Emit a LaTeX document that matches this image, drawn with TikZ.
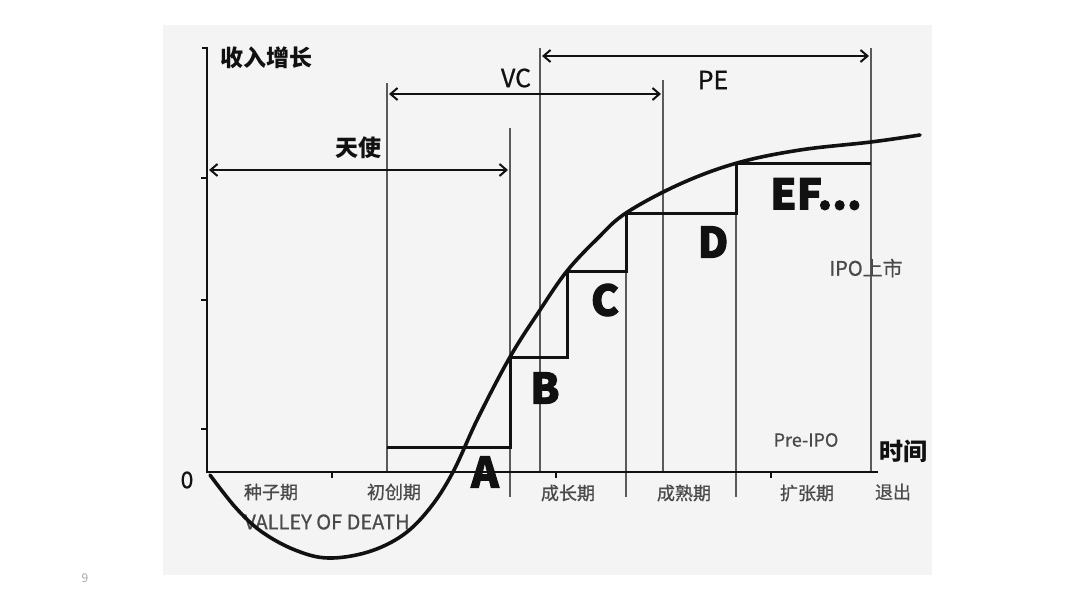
\documentclass[tikz,border=0pt]{standalone}
\usepackage{fontspec}
\setmainfont{Noto Sans CJK SC}
\newfontfamily\heavy{Noto Sans CJK SC}[FakeBold=2.5]
\newfontfamily\medium{Noto Sans CJK SC}[FakeBold=0.8]
\usetikzlibrary{arrows.meta}
\definecolor{panel}{HTML}{F4F4F4}
\definecolor{thingray}{HTML}{5A5A5A}
\definecolor{labgray}{HTML}{4A4A4A}
\definecolor{ink}{HTML}{111111}
\newcommand{\fsz}[1]{\fontsize{#1}{#1}\selectfont}
\begin{document}
\begin{tikzpicture}[x=1pt,y=-1pt,
  thinline/.style={draw=thingray, line width=1.4pt},
  axisline/.style={draw=ink, line width=2.8pt},
  tickline/.style={draw=ink, line width=2pt},
  stepline/.style={draw=ink, line width=3pt, line join=miter},
  curveline/.style={draw=ink, line width=3.6pt, line cap=round},
  span/.style={draw=ink, line width=2pt, {Straight Barb[length=7pt,width=12pt,line width=2pt]}-{Straight Barb[length=7pt,width=12pt,line width=2pt]}},
  title/.style={inner sep=0pt, text=ink, font=\fsz{23}\bfseries},
  phase/.style={inner sep=0pt, text=labgray, font=\fsz{18}\medium},
  big/.style={inner sep=0pt, text=ink, font=\fsz{42}\heavy\bfseries},
  note/.style={inner sep=0pt, text=labgray, font=\fsz{20}\medium},
  every node/.style={anchor=center}]
\useasboundingbox (0,0) rectangle (1080,608);
\fill[panel] (163,25) rectangle (932,575);
\node[inner sep=0pt, text=gray!70, font=\fsz{12}] (pg) at (85,578) {9};

% thin vertical guide lines
\coordinate (g1t) at (387,83);  \coordinate (g1b) at (387,472);
\coordinate (g2t) at (510,128); \coordinate (g2b) at (510,497);
\coordinate (g3t) at (540,48);  \coordinate (g3b) at (540,472);
\coordinate (g4t) at (626,213); \coordinate (g4b) at (626,497);
\coordinate (g5t) at (663,80);  \coordinate (g5b) at (663,472);
\coordinate (g6t) at (736,162); \coordinate (g6b) at (736,497);
\coordinate (g7t) at (871,48);  \coordinate (g7b) at (871,472);
\foreach \i in {1,...,7} \draw[thinline] (g\i t) -- (g\i b);

% axes
\coordinate (O) at (207,472);
\coordinate (ytop) at (207,48);
\coordinate (xend) at (878,472);
\draw[axisline] (202,48) -- (ytop) -- (O) -- (xend);
\foreach \y in {178,300,429} \draw[tickline] (207,\y) -- (201,\y);
\foreach \x in {332,556,771} \draw[tickline] (\x,472) -- (\x,478);

% span arrows
\coordinate (a1) at (209,170); \coordinate (a2) at (508,170);
\coordinate (v1) at (389,94);  \coordinate (v2) at (661,94);
\coordinate (p1) at (542,56);  \coordinate (p2) at (869,56);
\draw[span] (a1) -- (a2);
\draw[span] (v1) -- (v2);
\draw[span] (p1) -- (p2);
\node[title] (angel) at (358,148) {天使};
\node[title, font=\fsz{25}\medium] (vc) at (516,78) {VC};
\node[title, font=\fsz{25}\medium] (pe) at (713,80) {PE};

% axis labels
\node[title] (ylab) at (266,58) {收入增长};
\node[title, font=\fsz{24}\bfseries] (xlab) at (903,451) {时间};
\node[title, font=\fsz{23}\medium] (zero) at (187,480) {0};

% phases
\node[phase] (ph1) at (271,492) {种子期};
\node[phase] (ph2) at (394,492) {初创期};
\node[phase] (ph3) at (568,493) {成长期};
\node[phase] (ph4) at (684,493) {成熟期};
\node[phase] (ph5) at (807,493) {扩张期};
\node[phase] (ph6) at (893,492) {退出};
\node[phase, font=\fsz{20}\medium] (valley) at (327,522) {VALLEY OF DEATH};

% steps
\draw[stepline] (387,447) -- (510,447) -- (510,357) -- (567,357) -- (567,271)
  -- (626,271) -- (626,213) -- (736,213) -- (736,163) -- (871,163);

% round letters
\node[big] (rA) at (485,472) {A};
\node[big] (rB) at (545,388) {B};
\node[big] (rC) at (605,300) {C};
\node[big] (rD) at (713,242) {D};
\node[big] (rEF) at (816,194) {EF...};
\node[note] (ipo) at (866,268) {IPO上市};
\node[note, font=\fsz{18}\medium] (preipo) at (806,440) {Pre-IPO};

% growth curve
\draw[curveline] plot[smooth, tension=0.6] coordinates {
  (210,475) (236,508) (262,532) (295,550) (328,558) (368,552) (403,535)
  (430,508) (453,472) (478,418) (510,357) (540,310) (567,271) (597,239)
  (626,213) (680,184) (737,163) (800,150) (871,142) (920,135)};
\end{tikzpicture}
\end{document}
